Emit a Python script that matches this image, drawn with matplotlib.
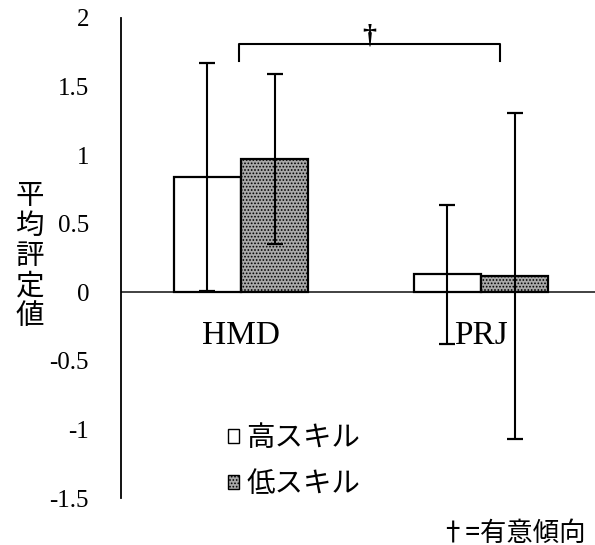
import numpy as np
import matplotlib.pyplot as plt
from matplotlib.patches import Patch

plt.rcParams['font.family'] = ['Liberation Serif', 'Noto Sans CJK JP', 'DejaVu Sans']
plt.rcParams['hatch.linewidth'] = 0.8

# データ
categories = ["HMD", "PRJ"]
groups = ["高スキル", "低スキル"]
high_mean = [0.84, 0.13]
high_err = [0.83, 0.51]
low_mean = [0.97, 0.12]
low_err = [0.62, 1.19]
yticks = [-1.5, -1, -0.5, 0, 0.5, 1, 1.5, 2]
ytick_labels = ["-1.5", "-1", "-0.5", "0", "0.5", "1", "1.5", "2"]

fig = plt.figure(figsize=(5.95, 5.45), dpi=100)
ax = fig.add_axes([0.2034, 0.0862, 0.7966, 0.8808])

x = np.arange(len(categories))
w = 0.28

ax.bar(x - w / 2, high_mean, w, color='white', edgecolor='black', linewidth=1.6, zorder=2)
ax.bar(x + w / 2, low_mean, w, color='#a8a8a8', edgecolor='black', linewidth=1.6,
       hatch='.....', zorder=2)
ax.errorbar(x - w / 2, high_mean, yerr=high_err, fmt='none', ecolor='black',
            elinewidth=1.5, capsize=5.5, capthick=1.6, zorder=3)
ax.errorbar(x + w / 2, low_mean, yerr=low_err, fmt='none', ecolor='black',
            elinewidth=1.5, capsize=5.5, capthick=1.6, zorder=3)
ax.axhline(0, color='#333333', linewidth=1.3, zorder=1)

# 有意傾向のブラケット
bx0, bx1 = -0.01, 1.08
ax.plot([bx0, bx0, bx1, bx1], [1.69, 1.81, 1.81, 1.69], color='black', linewidth=1.5)
ax.text((bx0 + bx1) / 2, 1.78, "†", ha='center', va='bottom', fontsize=20,
        fontweight='bold')

ax.set_xlim(-0.5, 1.475)
ax.set_ylim(-1.5, 2)
ax.set_yticks(yticks)
ax.set_yticklabels(ytick_labels, fontsize=18)
ax.tick_params(axis='y', length=0, pad=23)
ax.set_xticks([])
for s in ['top', 'right', 'bottom']:
    ax.spines[s].set_visible(False)
ax.spines['left'].set_linewidth(1.3)

for xi, name in zip(x, categories):
    ax.text(xi, -0.32, name, ha='center', va='center', fontsize=24)

fig.text(0.05, 0.53, "平\n均\n評\n定\n値", ha='center', va='center',
         fontsize=20.5, linespacing=1.0, family=['Noto Sans CJK JP'])

handles = [Patch(facecolor='white', edgecolor='black', linewidth=1),
           Patch(facecolor='#a8a8a8', edgecolor='black', linewidth=1, hatch='.....')]
ax.legend(handles, groups, loc='upper left', bbox_to_anchor=(0.195, 0.185),
          frameon=False, handlelength=0.4, handleheight=0.4,
          handletextpad=0.25, labelspacing=0.55, borderpad=0,
          prop={'family': ['Noto Sans CJK JP'], 'size': 20.5})

fig.text(0.985, 0.022, "†=有意傾向", ha='right', va='center', fontsize=19,
         family=['Noto Sans CJK JP'])

fig.savefig("out.png", dpi=100)
